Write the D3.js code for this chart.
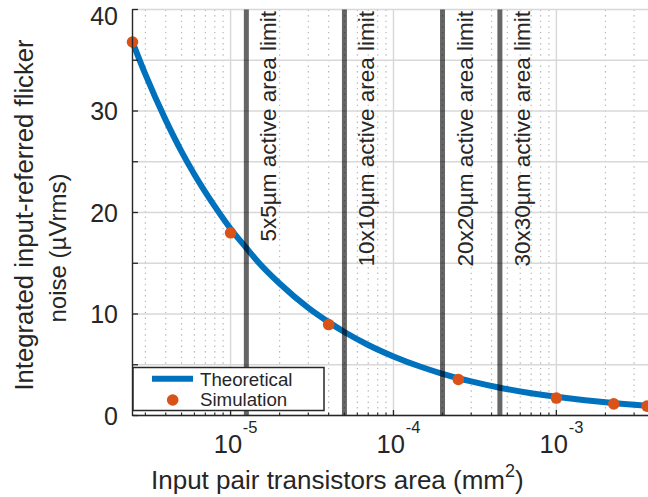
<!DOCTYPE html>
<html>
<head>
<meta charset="utf-8">
<script src="https://cdn.jsdelivr.net/npm/d3@7"></script>
<style>
  html, body { margin: 0; padding: 0; background: #fff; }
  text { font-family: "Liberation Sans", Arial, Helvetica, sans-serif; fill: #262626; }
</style>
</head>
<body>
<script>
// ---------------- data ----------------
const theoryArea  = [2.5e-6, 3e-6, 4e-6, 5e-6, 6e-6, 8e-6, 1e-5, 1.25e-5, 1.5e-5, 2e-5, 3e-5, 4e-5, 5e-5, 7e-5,
                     1e-4, 1.5e-4, 2e-4, 3e-4, 4.5e-4, 7e-4, 1e-3, 1.5e-3, 2e-3, 2.5e-3, 3e-3, 3.6e-3];
const theoryNoise = [36.8, 33.6, 29.1, 26.0, 23.75, 20.6, 18.4, 16.5, 15.0, 13.0, 10.6, 9.2, 8.23, 6.95,
                     5.82, 4.75, 4.11, 3.36, 2.74, 2.2, 1.84, 1.50, 1.30, 1.16, 1.06, 0.97];
const simArea  = [2.5e-6, 1e-5, 4e-5, 2.5e-4, 1e-3, 2.25e-3, 3.6e-3];
const simNoise = [36.8, 18.0, 8.96, 3.55, 1.72, 1.15, 0.92];
const limitArea   = [1.25e-5, 5e-5, 2e-4, 4.5e-4];
const limitLabels = ["5x5µm active area limit", "10x10µm active area limit",
                     "20x20µm active area limit", "30x30µm active area limit"];
const xDomain = [2.5e-6, 3.6e-3];
const yDomain = [0, 40];
const yTicks = [0, 5, 10, 15, 20, 25, 30, 35, 40];
const yTickLabels = ["0", "", "10", "", "20", "", "30", "", "40"];
const xMajorTicks = [1e-5, 1e-4, 1e-3];
const xTickExponents = ["-5", "-4", "-3"];
const legendLabels = ["Theoretical", "Simulation"];
const xLabelText = "Input pair transistors area (mm";
const yLabelLines = ["Integrated input-referred flicker", "noise (µVrms)"];

// ---------------- layout ----------------
const W = 648, H = 497;
const L = 132.5, R = 647, T = 9.5, B = 415.5;
const blue = "#0072BD", orange = "#D95319", axisCol = "#262626";

const svg = d3.select("body").append("svg").attr("width", W).attr("height", H);

const x = d3.scaleLog().domain(xDomain).range([L, R]);
const y = d3.scaleLinear().domain(yDomain).range([B, T]);

// minor x ticks (library-generated 1..9 multiples)
const allX = x.ticks();
const minorX = allX.filter(v => !xMajorTicks.some(m => Math.abs(m - v) / m < 1e-9));

const grid = svg.append("g");
// x minor dotted grid
grid.selectAll("line.xminor").data(minorX).join("line")
  .attr("x1", d => x(d)).attr("x2", d => x(d)).attr("y1", T).attr("y2", B)
  .attr("stroke", "#b8b8b8").attr("stroke-width", 1.2).attr("stroke-dasharray", "1.4,4.2");
// x major grid
grid.selectAll("line.xmajor").data(xMajorTicks).join("line")
  .attr("x1", d => x(d)).attr("x2", d => x(d)).attr("y1", T).attr("y2", B)
  .attr("stroke", "#d8d8d8").attr("stroke-width", 1.4);
// y grid
grid.selectAll("line.ygrid").data(yTicks).join("line")
  .attr("x1", L).attr("x2", W).attr("y1", d => y(d)).attr("y2", d => y(d))
  .attr("stroke", "#d8d8d8").attr("stroke-width", 1.4);

// theoretical curve
const pts = theoryArea.map((a, i) => [a, theoryNoise[i]]);
svg.append("path").datum(pts)
  .attr("d", d3.line().x(d => x(d[0])).y(d => y(d[1])).curve(d3.curveMonotoneX))
  .attr("fill", "none").attr("stroke", blue).attr("stroke-width", 6)
  .attr("stroke-linejoin", "round");

// simulation markers
svg.selectAll("circle.sim").data(simArea.map((a, i) => [a, simNoise[i]])).join("circle")
  .attr("cx", d => x(d[0])).attr("cy", d => y(d[1])).attr("r", 5.8).attr("fill", orange);

// active area limit lines
svg.selectAll("line.limit").data(limitArea).join("line")
  .attr("x1", d => x(d)).attr("x2", d => x(d)).attr("y1", T).attr("y2", B)
  .attr("stroke", "#000").attr("stroke-opacity", 0.6).attr("stroke-width", 5);

svg.selectAll("text.limit").data(limitArea).join("text")
  .attr("transform", d => `translate(${x(d) + 30},11) rotate(-90)`)
  .attr("text-anchor", "end")
  .attr("font-size", 22.5)
  .attr("fill", "#1a1a1a")
  .text((d, i) => limitLabels[i]);

// axes
const ax = svg.append("g");
ax.append("line").attr("x1", L).attr("x2", L).attr("y1", T - 0.5).attr("y2", B + 0.5)
  .attr("stroke", axisCol).attr("stroke-width", 1.4);
ax.append("line").attr("x1", L).attr("x2", W).attr("y1", B).attr("y2", B)
  .attr("stroke", axisCol).attr("stroke-width", 1.4);
// y ticks
ax.selectAll("line.yt").data(yTicks).join("line")
  .attr("x1", L).attr("x2", L + 5.5).attr("y1", d => y(d)).attr("y2", d => y(d))
  .attr("stroke", axisCol).attr("stroke-width", 1.3);
ax.selectAll("text.yt").data(yTicks).join("text")
  .attr("x", L - 14.5).attr("y", d => Math.max(y(d), 16)).attr("dy", "0.36em")
  .attr("text-anchor", "end").attr("font-size", 25)
  .text((d, i) => yTickLabels[i]);
// x ticks
ax.selectAll("line.xmi").data(minorX).join("line")
  .attr("x1", d => x(d)).attr("x2", d => x(d)).attr("y1", B).attr("y2", B - 3)
  .attr("stroke", axisCol).attr("stroke-width", 1.1);
ax.selectAll("line.xma").data(xMajorTicks).join("line")
  .attr("x1", d => x(d)).attr("x2", d => x(d)).attr("y1", B).attr("y2", B - 5.5)
  .attr("stroke", axisCol).attr("stroke-width", 1.3);
const xl = ax.selectAll("g.xl").data(xMajorTicks).join("g")
  .attr("transform", d => `translate(${x(d)},0)`);
xl.append("text").attr("x", 11.5).attr("y", 453).attr("text-anchor", "end")
  .attr("font-size", 25.5).text("10");
xl.append("text").attr("x", 12.3).attr("y", 432.5).attr("text-anchor", "start")
  .attr("font-size", 16.5).text((d, i) => xTickExponents[i]);

// axis labels
const xlab = svg.append("text").attr("x", 151).attr("y", 489).attr("font-size", 26);
xlab.append("tspan").text(xLabelText);
xlab.append("tspan").attr("font-size", 18).attr("dy", -12).text("2");
xlab.append("tspan").attr("dy", 12).text(")");

svg.append("text").attr("transform", "translate(33,215) rotate(-90)")
  .attr("text-anchor", "middle").attr("font-size", 25.7).text(yLabelLines[0]);
svg.append("text").attr("transform", "translate(66,248) rotate(-90)")
  .attr("text-anchor", "middle").attr("font-size", 24).text(yLabelLines[1]);

// legend
const lg = svg.append("g");
lg.append("rect").attr("x", 133).attr("y", 367.5).attr("width", 191).attr("height", 43)
  .attr("fill", "#fff").attr("stroke", axisCol).attr("stroke-width", 1.5);
lg.append("line").attr("x1", 152).attr("x2", 193).attr("y1", 378.7).attr("y2", 378.7)
  .attr("stroke", blue).attr("stroke-width", 6);
lg.append("circle").attr("cx", 172.7).attr("cy", 400).attr("r", 5.8).attr("fill", orange);
lg.selectAll("text").data(legendLabels).join("text")
  .attr("x", 200).attr("y", (d, i) => 386 + i * 19.5)
  .attr("font-size", 18.7).text(d => d);
</script>
</body>
</html>
